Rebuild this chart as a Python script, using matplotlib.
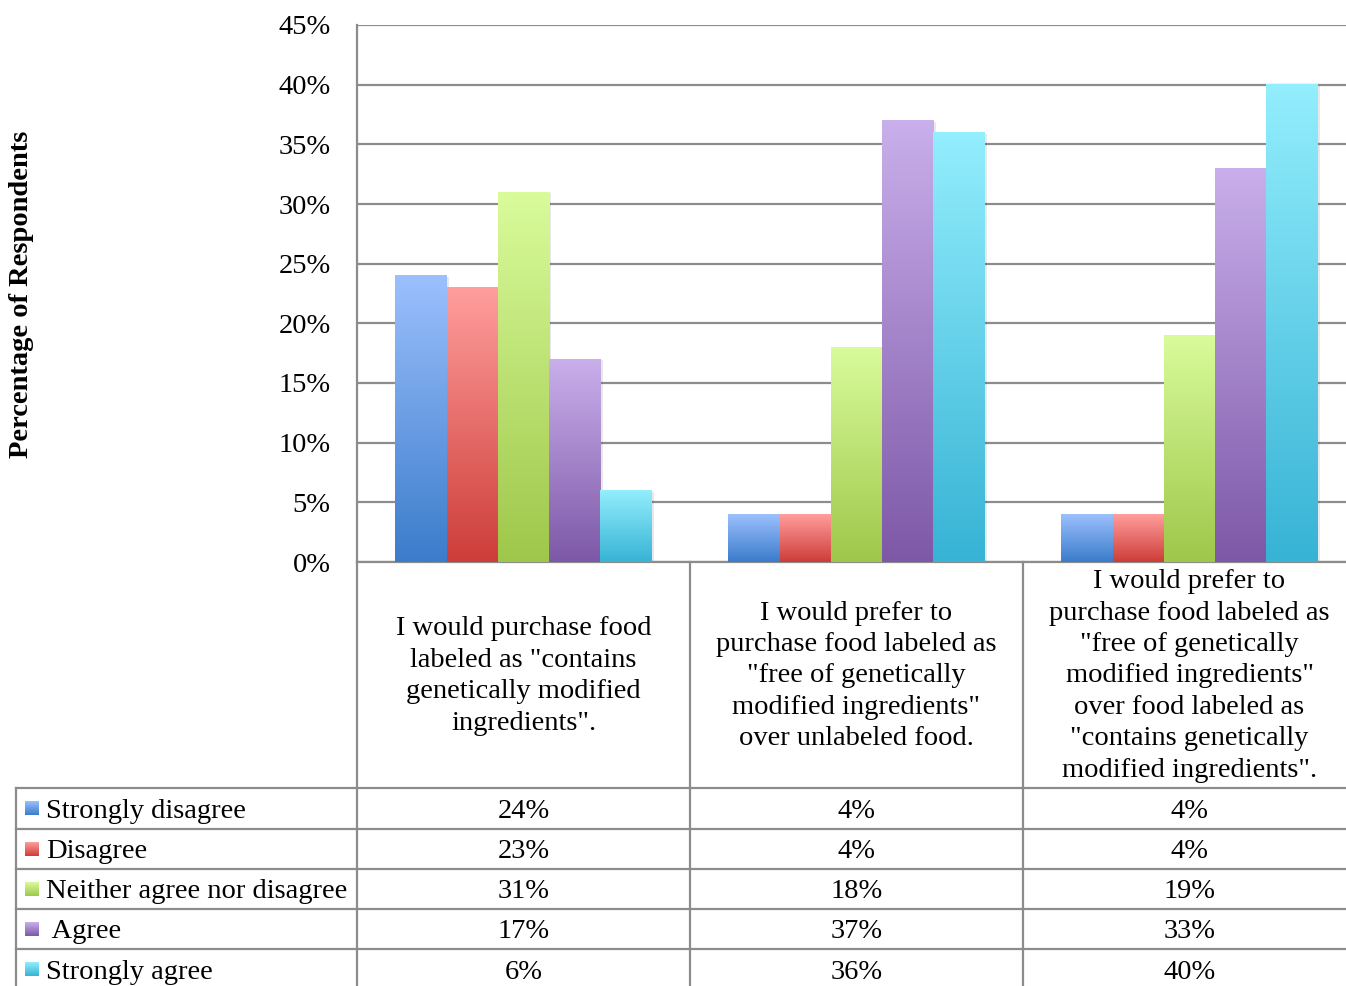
import numpy as np
import matplotlib
matplotlib.use("Agg")
import matplotlib.pyplot as plt
from matplotlib.colors import LinearSegmentedColormap

# ---- data ----
categories = [
    'I would purchase food\nlabeled as "contains\ngenetically modified\ningredients".',
    'I would prefer to\npurchase food labeled as\n"free of genetically\nmodified ingredients"\nover unlabeled food.',
    'I would prefer to\npurchase food labeled as\n"free of genetically\nmodified ingredients"\nover food labeled as\n"contains genetically\nmodified ingredients".',
]
series_names = ["Strongly disagree", "Disagree", "Neither agree nor disagree", " Agree", "Strongly agree"]
strongly_disagree = [24, 4, 4]
disagree = [23, 4, 4]
neither = [31, 18, 19]
agree = [17, 37, 33]
strongly_agree = [6, 36, 40]
series_values = [strongly_disagree, disagree, neither, agree, strongly_agree]
yticks = [0, 5, 10, 15, 20, 25, 30, 35, 40, 45]
ylabel = "Percentage of Respondents"

# gradient colours (top, bottom)
grad_colors = [
    ("#9cc0fd", "#3b7ccb"),
    ("#ff9e9c", "#cd3d39"),
    ("#d9fb9b", "#9fc74a"),
    ("#c9afeb", "#7d58a7"),
    ("#93eefd", "#37b3d5"),
]

FONT = "Liberation Serif"
FS = 20.5
W, H = 1346, 986
fig = plt.figure(figsize=(W / 100, H / 100), dpi=100)

# pixel geometry
ax_left, ax_right, ax_top, ax_bottom = 357, 1356, 25, 562
ax = fig.add_axes([ax_left / W, 1 - ax_bottom / H, (ax_right - ax_left) / W, (ax_bottom - ax_top) / H])

n = len(series_values)
bw = 0.154
x = np.arange(len(categories))
grad = np.linspace(1, 0, 256).reshape(-1, 1)
for i, (vals, (ctop, cbot)) in enumerate(zip(series_values, grad_colors)):
    pos = x + (i - (n - 1) / 2) * bw
    bars = ax.bar(pos, vals, width=bw, facecolor="none", edgecolor="none", zorder=3)
    cmap = LinearSegmentedColormap.from_list(f"g{i}", [cbot, ctop])
    for b in bars:
        x0, y0 = b.get_x(), b.get_y()
        w, h = b.get_width(), b.get_height()
        # soft shadow on the right
        ax.add_patch(plt.Rectangle((x0 + 0.007, y0), w, h - 0.1, facecolor="#000000", alpha=0.09,
                                   edgecolor="none", zorder=2.5))
        ax.imshow(grad, extent=[x0, x0 + w, y0, y0 + h], aspect="auto", cmap=cmap,
                  vmin=0, vmax=1, zorder=3, interpolation="bilinear")

ax.set_xlim(-0.5, len(categories) - 0.5)
ax.set_ylim(0, 45)
ax.set_yticks(yticks)
ax.set_yticklabels([f"{t}%" for t in yticks], fontfamily=FONT, fontsize=FS)
ax.tick_params(axis="y", length=0, pad=19)
ax.set_xticks([])
ax.yaxis.grid(True, color="#8c8c8c", linewidth=1.6, zorder=1)
ax.set_axisbelow(True)
for s in ["top", "right"]:
    ax.spines[s].set_visible(False)
ax.spines["left"].set_color("#8c8c8c")
ax.spines["left"].set_linewidth(1.6)
ax.spines["bottom"].set_color("#8c8c8c")
ax.spines["bottom"].set_linewidth(1.6)

fig.text(22 / W, 1 - 294 / H, ylabel, rotation=90, ha="center", va="center",
         fontfamily=FONT, fontsize=20.5, fontweight="bold")

# ---- data table (overlay axes in pixel coords) ----
tax = fig.add_axes([0, 0, 1, 1], zorder=5)
tax.set_xlim(0, W)
tax.set_ylim(H, 0)
tax.axis("off")
tax.patch.set_alpha(0)
lc = "#8c8c8c"
lw = 1.6
col_edges = [357, 690, 1023, 1356]
row_edges = [788, 829, 869, 909, 949, 990]
for xe in col_edges[:-1]:
    tax.plot([xe, xe], [ax_bottom, H], color=lc, lw=lw)
tax.plot([16, 16], [row_edges[0], H], color=lc, lw=lw)
for ye in row_edges[:-1]:
    tax.plot([16, W], [ye, ye], color=lc, lw=lw)

# header (category labels)
for j, cat in enumerate(categories):
    cx = (col_edges[j] + col_edges[j + 1]) / 2
    if j == 2:
        cx = (col_edges[j] + W) / 2 + 5
    tax.text(cx, (ax_bottom + row_edges[0]) / 2 + 1, cat, ha="center", va="center",
             fontfamily=FONT, fontsize=FS, linespacing=1.34)

# rows
sq = 14
for i, (name, vals) in enumerate(zip(series_names, series_values)):
    yc = (row_edges[i] + row_edges[i + 1]) / 2
    ctop, cbot = grad_colors[i]
    cmap = LinearSegmentedColormap.from_list(f"s{i}", [cbot, ctop])
    tax.imshow(grad, extent=[25, 25 + sq, yc + sq / 2, yc - sq / 2], aspect="auto", cmap=cmap,
               vmin=0, vmax=1, interpolation="bilinear")
    tax.text(46, yc + 3, name, ha="left", va="center", fontfamily=FONT, fontsize=FS)
    for j, v in enumerate(vals):
        cx = (col_edges[j] + col_edges[j + 1]) / 2
        if j == 2:
            cx = (col_edges[j] + W) / 2 + 5
        tax.text(cx, yc + 3, f"{v}%", ha="center", va="center", fontfamily=FONT, fontsize=FS)
tax.set_xlim(0, W)
tax.set_ylim(H, 0)

fig.savefig("out.png", dpi=100)
